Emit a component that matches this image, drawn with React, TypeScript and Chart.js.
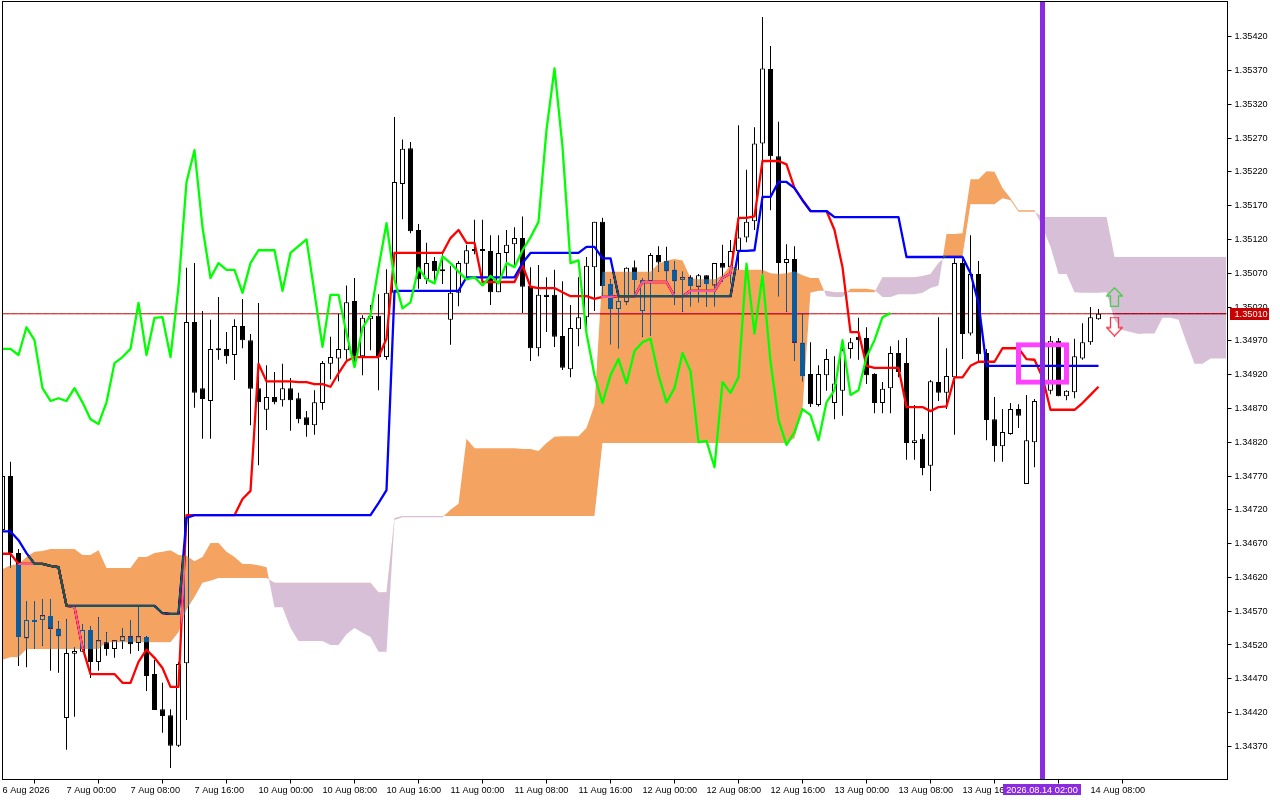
import React, { useEffect, useRef } from "react";
import { Chart, registerables } from "chart.js";

const opens = [1.34690,1.34770,1.34656,1.34530,1.34557,1.34557,1.34563,1.34544,1.34412,1.34507,
1.34510,1.34542,1.34495,1.34524,1.34514,1.34526,1.34533,1.34523,1.34532,1.34477,
1.34425,1.34416,1.34371,1.34493,1.34998,1.34900,1.34881,1.34959,1.34958,1.34949,
1.34992,1.34971,1.34900,1.34868,1.34887,1.34882,1.34900,1.34885,1.34857,1.34845,
1.34878,1.34936,1.34944,1.34956,1.35029,1.34947,1.35002,1.35007,1.34946,1.35041,
1.35202,1.35255,1.35134,1.35061,1.35088,1.35075,1.35001,1.35041,1.35084,1.35106,
1.35106,1.35103,1.35042,1.35100,1.35113,1.35122,1.35051,1.34959,1.35038,1.35038,
1.34977,1.34928,1.34987,1.35005,1.35079,1.35146,1.35054,1.35017,1.35027,1.35079,
1.35014,1.35058,1.35097,1.35088,1.35075,1.35060,1.35064,1.35050,1.35067,1.35052,
1.35085,1.35079,1.35103,1.35123,1.35147,1.35262,1.35372,1.35243,1.35085,1.35091,
1.34967,1.34921,1.34875,1.34919,1.34878,1.34896,1.34958,1.34976,1.34974,1.34921,
1.34878,1.34900,1.34952,1.34937,1.34819,1.34825,1.34785,1.34909,1.34893,1.34916,
1.35085,1.34981,1.35069,1.34952,1.34854,1.34814,1.34832,1.34869,1.34758,1.34820,
1.34879,1.34896,1.34970,1.34888,1.34894,1.34944,1.34968,1.35002];

const highs = [1.34779,1.34791,1.34662,1.34585,1.34585,1.34588,1.34588,1.34555,1.34558,1.34517,
1.34551,1.34548,1.34561,1.34539,1.34527,1.34545,1.34557,1.34578,1.34533,1.34498,
1.34464,1.34425,1.34495,1.35078,1.35085,1.35014,1.35001,1.35035,1.34983,1.35002,
1.35032,1.34980,1.35026,1.34934,1.34924,1.34936,1.34915,1.34893,1.34866,1.34897,
1.34940,1.34976,1.35010,1.35052,1.35063,1.35008,1.35023,1.35039,1.35076,1.35301,
1.35268,1.35264,1.35143,1.35115,1.35094,1.35098,1.35081,1.35088,1.35112,1.35149,
1.35149,1.35126,1.35126,1.35134,1.35138,1.35154,1.35079,1.35082,1.35064,1.35075,
1.35058,1.35023,1.35064,1.35094,1.35146,1.35152,1.35061,1.35041,1.35079,1.35089,
1.35063,1.35100,1.35110,1.35109,1.35088,1.35072,1.35067,1.35069,1.35067,1.35085,
1.35112,1.35119,1.35289,1.35223,1.35286,1.35449,1.35406,1.35294,1.35113,1.35110,
1.35011,1.34968,1.34934,1.34958,1.34947,1.34959,1.34974,1.35004,1.34990,1.34922,
1.34909,1.34962,1.34971,1.34974,1.34875,1.34832,1.34912,1.35005,1.34959,1.35092,
1.35092,1.35126,1.35088,1.34958,1.34887,1.34869,1.34878,1.34876,1.34890,1.34884,
1.34974,1.34977,1.34974,1.34897,1.34973,1.34996,1.35020,1.35017];

const lows = [1.34684,1.34634,1.34489,1.34487,1.34514,1.34519,1.34482,1.34479,1.34365,1.34414,
1.34510,1.34471,1.34482,1.34504,1.34501,1.34514,1.34507,1.34511,1.34452,1.34424,
1.34390,1.34338,1.34369,1.34409,1.34871,1.34825,1.34825,1.34942,1.34936,1.34912,
1.34959,1.34845,1.34786,1.34838,1.34876,1.34873,1.34837,1.34848,1.34828,1.34831,
1.34868,1.34913,1.34910,1.34942,1.34931,1.34919,1.34956,1.34897,1.34942,1.35030,
1.35150,1.35129,1.35047,1.35054,1.35054,1.35054,1.34964,1.35021,1.35064,1.35098,
1.35064,1.35023,1.35042,1.35064,1.35079,1.35011,1.34940,1.34947,1.34983,1.34961,
1.34927,1.34916,1.34962,1.34986,1.35014,1.35035,1.34965,1.34959,1.35023,1.35038,
1.34976,1.34977,1.35072,1.35057,1.35023,1.35013,1.35021,1.35027,1.35020,1.35021,
1.35057,1.35055,1.35075,1.35116,1.35134,1.35070,1.35163,1.35036,1.35013,1.34940,
1.34910,1.34872,1.34873,1.34896,1.34854,1.34859,1.34944,1.34942,1.34906,1.34863,
1.34863,1.34863,1.34916,1.34794,1.34794,1.34771,1.34748,1.34881,1.34869,1.34831,
1.34943,1.34978,1.34937,1.34823,1.34791,1.34791,1.34831,1.34841,1.34758,1.34783,
1.34868,1.34891,1.34888,1.34882,1.34885,1.34942,1.34964,1.35001];

const closes = [1.34770,1.34656,1.34532,1.34557,1.34554,1.34564,1.34544,1.34533,1.34508,1.34511,
1.34542,1.34495,1.34527,1.34514,1.34527,1.34533,1.34521,1.34533,1.34474,1.34424,
1.34415,1.34371,1.34492,1.34998,1.34893,1.34884,1.34958,1.34956,1.34947,1.34992,
1.34971,1.34899,1.34879,1.34887,1.34879,1.34900,1.34882,1.34854,1.34845,1.34879,
1.34937,1.34946,1.34958,1.35027,1.34947,1.35004,1.35007,1.34946,1.35041,1.35205,
1.35254,1.35132,1.35061,1.35085,1.35073,1.35073,1.35041,1.35085,1.35104,1.35103,
1.35103,1.35042,1.35100,1.35112,1.35122,1.35050,1.34959,1.35038,1.35035,1.34976,
1.34930,1.34989,1.35005,1.35081,1.35146,1.35051,1.35017,1.35029,1.35078,1.35060,
1.35060,1.35097,1.35086,1.35073,1.35058,1.35064,1.35051,1.35067,1.35054,1.35085,
1.35078,1.35103,1.35123,1.35146,1.35262,1.35373,1.35243,1.35085,1.35091,1.34967,
1.34918,1.34876,1.34921,1.34943,1.34907,1.34956,1.34968,1.34971,1.34919,1.34878,
1.34899,1.34952,1.34924,1.34819,1.34823,1.34782,1.34910,1.34893,1.34918,1.35085,
1.34980,1.35069,1.34950,1.34853,1.34814,1.34835,1.34869,1.34859,1.34823,1.34881,
1.34964,1.34970,1.34888,1.34896,1.34947,1.34968,1.35005,1.35010];

const tenkan = [1.34655,1.34655,1.34640,1.34640,1.34640,1.34640,1.34637,1.34635,1.34578,1.34576,
1.34516,1.34477,1.34477,1.34477,1.34477,1.34464,1.34464,1.34495,1.34513,1.34501,
1.34486,1.34458,1.34458,1.34712,1.34712,1.34712,1.34712,1.34712,1.34712,1.34712,
1.34736,1.34748,1.34936,1.34910,1.34910,1.34910,1.34910,1.34909,1.34909,1.34906,
1.34906,1.34902,1.34922,1.34940,1.34946,1.34946,1.34946,1.34946,1.34973,1.35100,
1.35100,1.35100,1.35100,1.35100,1.35100,1.35100,1.35122,1.35134,1.35115,1.35115,
1.35057,1.35057,1.35057,1.35057,1.35057,1.35082,1.35050,1.35048,1.35048,1.35048,
1.35042,1.35036,1.35036,1.35036,1.35032,1.35035,1.35035,1.35036,1.35036,1.35036,
1.35057,1.35057,1.35057,1.35057,1.35036,1.35036,1.35044,1.35044,1.35044,1.35044,
1.35063,1.35070,1.35152,1.35152,1.35154,1.35236,1.35236,1.35236,1.35231,1.35196,
1.35178,1.35162,1.35162,1.35162,1.35134,1.35079,1.34983,1.34983,1.34933,1.34930,
1.34930,1.34930,1.34930,1.34872,1.34872,1.34872,1.34866,1.34872,1.34873,1.34916,
1.34916,1.34933,1.34939,1.34939,1.34939,1.34959,1.34959,1.34959,1.34943,1.34942,
1.34916,1.34868,1.34868,1.34868,1.34868,1.34878,1.34890,1.34902];

const kijun = [1.34688,1.34688,1.34675,1.34656,1.34640,1.34640,1.34637,1.34635,1.34578,1.34578,
1.34578,1.34578,1.34578,1.34578,1.34578,1.34578,1.34578,1.34578,1.34578,1.34578,
1.34567,1.34566,1.34566,1.34708,1.34712,1.34712,1.34712,1.34712,1.34712,1.34712,
1.34712,1.34712,1.34712,1.34712,1.34712,1.34712,1.34712,1.34712,1.34712,1.34712,
1.34712,1.34712,1.34712,1.34712,1.34712,1.34712,1.34712,1.34730,1.34749,1.35044,
1.35044,1.35044,1.35044,1.35044,1.35044,1.35044,1.35044,1.35044,1.35064,1.35064,
1.35064,1.35064,1.35064,1.35064,1.35064,1.35085,1.35100,1.35100,1.35100,1.35100,
1.35100,1.35100,1.35100,1.35109,1.35109,1.35092,1.35092,1.35036,1.35036,1.35036,
1.35036,1.35036,1.35036,1.35036,1.35036,1.35036,1.35036,1.35036,1.35036,1.35036,
1.35036,1.35036,1.35103,1.35103,1.35104,1.35183,1.35183,1.35205,1.35205,1.35196,
1.35178,1.35162,1.35162,1.35162,1.35153,1.35153,1.35153,1.35153,1.35153,1.35153,
1.35153,1.35153,1.35153,1.35094,1.35094,1.35094,1.35094,1.35094,1.35094,1.35094,
1.35094,1.35070,1.35026,1.34933,1.34933,1.34933,1.34933,1.34933,1.34933,1.34933,
1.34933,1.34933,1.34933,1.34933,1.34933,1.34933,1.34933,1.34933];

const chikou = [1.34958,1.34958,1.34949,1.34990,1.34971,1.34900,1.34881,1.34885,1.34881,1.34900,
1.34879,1.34854,1.34847,1.34879,1.34937,1.34946,1.34958,1.35026,1.34949,1.35004,
1.35005,1.34946,1.35050,1.35205,1.35252,1.35138,1.35063,1.35085,1.35075,1.35075,
1.35041,1.35085,1.35104,1.35104,1.35104,1.35044,1.35100,1.35110,1.35120,1.35041,
1.34961,1.35038,1.35038,1.34981,1.34931,1.34989,1.35008,1.35078,1.35144,1.35060,
1.35018,1.35027,1.35078,1.35061,1.35055,1.35095,1.35085,1.35072,1.35061,1.35064,
1.35052,1.35066,1.35055,1.35085,1.35079,1.35104,1.35123,1.35146,1.35282,1.35373,
1.35257,1.35085,1.35089,1.34981,1.34919,1.34878,1.34919,1.34943,1.34907,1.34955,
1.34968,1.34973,1.34919,1.34879,1.34900,1.34952,1.34925,1.34820,1.34822,1.34783,
1.34909,1.34893,1.34916,1.35084,1.34981,1.35067,1.34939,1.34853,1.34816,1.34835,
1.34869,1.34860,1.34823,1.34879,1.34897,1.34971,1.34890,1.34897,1.34946,1.34971,
1.35005,1.35011];

const spanA = [1.34632,1.34638,1.34640,1.34650,1.34658,1.34659,1.34662,1.34662,1.34662,1.34662,
1.34653,1.34653,1.34660,1.34634,1.34634,1.34634,1.34634,1.34650,1.34650,1.34656,
1.34658,1.34660,1.34653,1.34652,1.34644,1.34650,1.34671,1.34671,1.34658,1.34650,
1.34640,1.34640,1.34638,1.34635,1.34576,1.34576,1.34545,1.34526,1.34526,1.34526,
1.34526,1.34520,1.34520,1.34536,1.34545,1.34538,1.34532,1.34510,1.34510,1.34705,
1.34709,1.34709,1.34709,1.34709,1.34709,1.34709,1.34720,1.34729,1.34825,1.34811,
1.34811,1.34811,1.34811,1.34811,1.34811,1.34810,1.34810,1.34807,1.34819,1.34828,
1.34829,1.34829,1.34829,1.34841,1.34875,1.35072,1.35072,1.35072,1.35072,1.35072,
1.35072,1.35072,1.35084,1.35089,1.35091,1.35089,1.35063,1.35061,1.35061,1.35061,
1.35067,1.35082,1.35075,1.35075,1.35075,1.35075,1.35070,1.35069,1.35070,1.35073,
1.35067,1.35063,1.35063,1.35036,1.35035,1.35035,1.35047,1.35047,1.35047,1.35045,
1.35035,1.35035,1.35039,1.35039,1.35039,1.35041,1.35048,1.35052,1.35128,1.35128,
1.35129,1.35209,1.35209,1.35221,1.35220,1.35196,1.35181,1.35163,1.35163,1.35163,
1.35138,1.35109,1.35069,1.35069,1.35042,1.35041,1.35041,1.35041,1.35042,1.35001,
1.34986,1.34983,1.34980,1.34981,1.34981,1.35004,1.35004,1.35001,1.34968,1.34936,
1.34936,1.34944,1.34944,1.34944];

const spanB = [1.34498,1.34502,1.34502,1.34514,1.34514,1.34514,1.34514,1.34514,1.34514,1.34514,
1.34514,1.34514,1.34514,1.34524,1.34524,1.34524,1.34524,1.34524,1.34524,1.34524,
1.34524,1.34524,1.34539,1.34572,1.34591,1.34612,1.34615,1.34619,1.34619,1.34619,
1.34619,1.34619,1.34619,1.34619,1.34612,1.34612,1.34612,1.34612,1.34612,1.34612,
1.34612,1.34612,1.34612,1.34612,1.34612,1.34612,1.34612,1.34598,1.34598,1.34708,
1.34711,1.34711,1.34711,1.34711,1.34711,1.34711,1.34711,1.34711,1.34711,1.34711,
1.34711,1.34711,1.34711,1.34711,1.34711,1.34711,1.34711,1.34711,1.34711,1.34711,
1.34711,1.34711,1.34711,1.34711,1.34711,1.34819,1.34819,1.34819,1.34819,1.34819,
1.34819,1.34819,1.34819,1.34819,1.34819,1.34819,1.34819,1.34819,1.34819,1.34819,
1.34819,1.34819,1.34819,1.34819,1.34819,1.34819,1.34819,1.34819,1.34819,1.34826,
1.34868,1.35041,1.35044,1.35044,1.35042,1.35042,1.35042,1.35042,1.35042,1.35042,
1.35064,1.35064,1.35064,1.35064,1.35064,1.35066,1.35069,1.35085,1.35095,1.35095,
1.35095,1.35172,1.35172,1.35172,1.35172,1.35181,1.35178,1.35161,1.35161,1.35161,
1.35153,1.35153,1.35153,1.35153,1.35153,1.35153,1.35153,1.35153,1.35153,1.35094,
1.35094,1.35094,1.35094,1.35094,1.35094,1.35094,1.35094,1.35094,1.35094,1.35094,
1.35094,1.35094,1.35094,1.35094];

const priceTicks = [1.3542,1.3537,1.3532,1.3527,1.3522,1.3517,1.3512,1.3507,1.3502,1.3497,1.3492,1.3487,1.3482,1.3477,1.3472,1.3467,1.3462,1.3457,1.3452,1.3447,1.3442,1.3437];
const timeTicks = ["6 Aug 2026","7 Aug 00:00","7 Aug 08:00","7 Aug 16:00","10 Aug 00:00","10 Aug 08:00","10 Aug 16:00","11 Aug 00:00","11 Aug 08:00","11 Aug 16:00","12 Aug 00:00","12 Aug 08:00","12 Aug 16:00","13 Aug 00:00","13 Aug 08:00","13 Aug 16:00","","14 Aug 08:00"];

const barCount = 154;
const priceMin = 1.34321;
const priceMax = 1.35472;
const lastPrice = 1.3501;
const lastPriceText = "1.35010";
const markerIndex = 130;
const markerText = "2026.08.14 02:00";
const boxRange = [1.34905, 1.34968];
const arrowIndex = 139;
const arrowUpPrice = 1.35035;
const arrowDownPrice = 1.34991;

const FONT = '"Liberation Sans", Arial, sans-serif';
const FONT_SIZE = 9.2;

const blendPlugin = {
  id: "differenceBlend",
  beforeDatasetDraw(chart: any, args: any) {
    if (chart.data.datasets[args.index].blendDifference) {
      chart.ctx.save();
      chart.ctx.globalCompositeOperation = "difference";
    }
  },
  afterDatasetDraw(chart: any, args: any) {
    if (chart.data.datasets[args.index].blendDifference) chart.ctx.restore();
  },
};
Chart.register(blendPlugin);
Chart.register(...registerables);

function arrowCanvas(color: string, up: boolean) {
  const c = document.createElement("canvas");
  c.width = 17;
  c.height = 20;
  const g = c.getContext("2d")!;
  const pts = [[8.5,0.7],[16.3,9],[12.5,9],[12.5,19.3],[4.5,19.3],[4.5,9],[0.7,9]];
  g.strokeStyle = color;
  g.lineWidth = 1.3;
  g.beginPath();
  pts.forEach(([x, y], i) => {
    const py = up ? y : 20 - y;
    if (i === 0) g.moveTo(x, py);
    else g.lineTo(x, py);
  });
  g.closePath();
  g.stroke();
  return c;
}

const only = (index: number, value: any) => {
  const out: any[] = new Array(barCount).fill(null);
  out[index] = value;
  return out;
};

export default function App() {
  const ref = useRef<HTMLCanvasElement>(null);

  useEffect(() => {
    const labels = Array.from({ length: barCount }, (_, i) => (i % 8 === 0 ? timeTicks[i / 8] ?? "" : ""));
    const wicks = lows.map((l, i) => [l, highs[i]]);
    const bodies = opens.map((o, i) => [Math.min(o, closes[i]), Math.max(o, closes[i])]);
    const bodyColors = opens.map((o, i) => (closes[i] >= o ? "#FFFFFF" : "#000000"));
    const lineBase = { type: "line", pointRadius: 0, borderWidth: 2.3, tension: 0, fill: false, borderJoinStyle: "round" };

    const chrome = {
      id: "chrome",
      beforeDraw(chart: any) {
        const g = chart.ctx;
        g.save();
        g.fillStyle = "#FFFFFF";
        g.fillRect(0, 0, chart.width, chart.height);
        g.restore();
      },
      afterDraw(chart: any) {
        const g = chart.ctx;
        const a = chart.chartArea;
        const py = chart.scales.y.getPixelForValue(lastPrice);
        const mx = chart.scales.x.getPixelForValue(markerIndex);
        g.save();
        g.strokeStyle = "#000000";
        g.lineWidth = 1;
        g.strokeRect(a.left, a.top, a.right + 1 - a.left, a.bottom - a.top);
        g.font = `${FONT_SIZE}px ${FONT}`;
        g.textBaseline = "middle";
        g.fillStyle = "#C80000";
        g.fillRect(a.right + 3.5, Math.round(py) - 6, 39, 12);
        g.fillStyle = "#FFFFFF";
        g.textAlign = "left";
        g.fillText(lastPriceText, a.right + 8, py + 0.5);
        g.fillStyle = "#8A2BE2";
        g.fillRect(mx - 39.5, a.bottom + 4.5, 78, 11);
        g.fillStyle = "#FFFFFF";
        g.textAlign = "center";
        g.fillText(markerText, mx - 0.5, a.bottom + 10.5);
        g.restore();
      },
    };

    const chart = new Chart(ref.current!, {
      type: "bar",
      plugins: [chrome],
      data: {
        labels,
        datasets: [
          { type: "line", data: new Array(barCount).fill(lastPrice), borderColor: "#C00000", borderWidth: 1, pointRadius: 0, order: 90, fill: false },
          { type: "bar", data: wicks, backgroundColor: "#000000", barThickness: 1, grouped: false, borderWidth: 0, inflateAmount: 0, order: 80 },
          { type: "bar", data: bodies, backgroundColor: bodyColors, borderColor: "#000000", borderWidth: 1, borderSkipped: false, barThickness: 5, grouped: false, inflateAmount: 0, minBarLength: 2, order: 79 },
          { ...lineBase, data: tenkan, borderColor: "#FF0000", order: 70 },
          { ...lineBase, data: kijun, borderColor: "#0000FF", order: 69 },
          { type: "line", data: spanA, pointRadius: 0, borderWidth: 1, borderColor: "rgba(0,0,0,0)", tension: 0, blendDifference: true, fill: { target: "+1", above: "#0B5B9F", below: "#274027" }, order: 60 },
          { type: "line", data: spanB, pointRadius: 0, borderWidth: 1, borderColor: "rgba(0,0,0,0)", tension: 0, fill: false, order: 61 },
          { ...lineBase, data: chikou, borderColor: "#00FF00", order: 50 },
          { type: "line", data: only(arrowIndex, arrowUpPrice), pointStyle: arrowCanvas("#4FCB4F", true), pointRadius: 8, showLine: false, order: 40 },
          { type: "line", data: only(arrowIndex, arrowDownPrice), pointStyle: arrowCanvas("#F2364A", false), pointRadius: 8, showLine: false, order: 40 },
          { type: "bar", data: only(markerIndex, boxRange), backgroundColor: "rgba(0,0,0,0)", borderColor: "#FF40FF", borderWidth: 5, borderSkipped: false, barThickness: 53, grouped: false, inflateAmount: 0, order: 30 },
          { type: "bar", data: only(markerIndex, [priceMin, priceMax]), backgroundColor: "#8A2BE2", barThickness: 5, grouped: false, borderWidth: 0, inflateAmount: 0, order: 20 },
        ],
      } as any,
      options: {
        responsive: false,
        animation: false,
        devicePixelRatio: 1,
        events: [],
        layout: { autoPadding: false, padding: { left: 2.5, top: 1.5, right: 0, bottom: 0 } },
        plugins: {
          legend: { display: false },
          title: { display: false },
          tooltip: { enabled: false },
          filler: { drawTime: "beforeDatasetDraw" },
        },
        scales: {
          x: {
            type: "category",
            offset: false,
            grid: { display: true, drawOnChartArea: false, drawTicks: true, tickLength: 4, color: "#000000" },
            border: { display: false },
            ticks: { autoSkip: false, maxRotation: 0, minRotation: 0, align: "start", padding: 1, color: "#000000", font: { family: FONT, size: FONT_SIZE } },
            afterBuildTicks: (s: any) => {
              s.ticks = s.ticks.filter((t: any) => t.value % 8 === 0 && t.value <= 136);
            },
            afterFit: (s: any) => {
              s.height = 20.5;
              s.paddingLeft = 0;
              s.paddingRight = 0;
              s.paddingTop = 0;
              s.paddingBottom = 0;
            },
          },
          y: {
            type: "linear",
            position: "right",
            min: priceMin,
            max: priceMax,
            grid: { display: true, drawOnChartArea: false, drawTicks: true, tickLength: 5, color: "#000000" },
            border: { display: false },
            ticks: { padding: 3, color: "#000000", font: { family: FONT, size: FONT_SIZE }, callback: (v: any) => Number(v).toFixed(5) },
            afterBuildTicks: (s: any) => {
              s.ticks = priceTicks.map((value) => ({ value }));
            },
            afterFit: (s: any) => {
              s.width = 53.5;
              s.paddingLeft = 0;
              s.paddingRight = 0;
              s.paddingTop = 0;
              s.paddingBottom = 0;
            },
          },
        },
      } as any,
    });
    return () => chart.destroy();
  }, []);

  return (
    <div style={{ position: "fixed", left: 0, top: 0, width: 1280, height: 800, background: "#FFFFFF" }}>
      <canvas ref={ref} width={1280} height={800} style={{ display: "block" }} />
    </div>
  );
}
